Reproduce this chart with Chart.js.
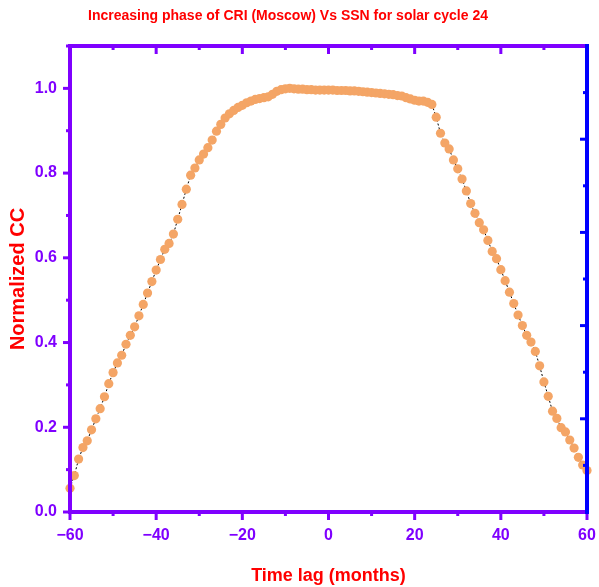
<!DOCTYPE html>
<html>
<head>
<meta charset="utf-8">
<script src="https://cdn.jsdelivr.net/npm/chart.js@4.4.0/dist/chart.umd.min.js"></script>
<style>
  html, body { margin: 0; padding: 0; background: #fff; }
  #wrap { width: 599px; height: 587px; }
</style>
</head>
<body>
<div id="wrap"><canvas id="grafica" width="599" height="587"></canvas></div>
<script>
// datos
const lags = [];
for (let m = -60; m <= 60; m++) lags.push(m);

const normCC = [
  0.056, 0.086, 0.125, 0.152, 0.168, 0.194, 0.220, 0.244, 0.272, 0.303,   // -60..-51
  0.329, 0.352, 0.370, 0.396, 0.417, 0.437, 0.463, 0.490, 0.517, 0.544,   // -50..-41
  0.571, 0.596, 0.620, 0.634, 0.656, 0.691, 0.726, 0.762, 0.795, 0.812,   // -40..-31
  0.831, 0.845, 0.860, 0.878, 0.899, 0.915, 0.930, 0.940, 0.948, 0.955,   // -30..-21
  0.960, 0.966, 0.970, 0.974, 0.976, 0.978, 0.980, 0.986, 0.993, 0.997,   // -20..-11
  0.999, 1.000, 0.999, 0.998, 0.998, 0.997, 0.997, 0.996, 0.996, 0.996,   // -10..-1
  0.996, 0.996, 0.995, 0.995, 0.995, 0.994, 0.994, 0.993, 0.992, 0.991,   // 0..9
  0.990, 0.989, 0.988, 0.987, 0.986, 0.985, 0.983, 0.982, 0.978, 0.975,   // 10..19
  0.972, 0.970, 0.970, 0.967, 0.962, 0.932, 0.894, 0.871, 0.857, 0.831,   // 20..29
  0.810, 0.786, 0.758, 0.728, 0.705, 0.683, 0.666, 0.641, 0.615, 0.598,   // 30..39
  0.572, 0.546, 0.519, 0.492, 0.465, 0.440, 0.417, 0.401, 0.379, 0.345,   // 40..49
  0.307, 0.273, 0.238, 0.221, 0.199, 0.189, 0.170, 0.151, 0.129, 0.111,   // 50..59
  0.098                                                                   // 60
];

const xTicks = [-60, -40, -20, 0, 20, 40, 60];
const yTicks = [0.0, 0.2, 0.4, 0.6, 0.8, 1.0];
const titulo = 'Increasing phase of CRI (Moscow) Vs SSN for solar cycle 24';

const MORADO = '#7f00ff';
const AZUL = '#0000ff';
const ROJO = '#ff0000';
const FUENTE = '"Liberation Sans", Arial, sans-serif';

// sin relleno extra por las etiquetas, para fijar el area del grafico
const sinRelleno = s => { s.paddingLeft = 0; s.paddingRight = 0; s.paddingTop = 0; s.paddingBottom = 0; };

// titulo, marco y marcas de los ejes (hacia fuera abajo/izquierda, hacia dentro arriba/derecha)
const marcoEjes = {
  id: 'marcoEjes',
  afterDatasetsDraw(chart) {
    const { ctx, chartArea: a, scales } = chart;
    const x = scales.x, y = scales.y, y2 = scales.y2;
    ctx.save();
    ctx.lineCap = 'butt';

    ctx.fillStyle = ROJO;
    ctx.font = 'bold 14px ' + FUENTE;
    ctx.textAlign = 'center';
    ctx.textBaseline = 'middle';
    ctx.fillText(titulo, 288, 16);

    // marcas eje x
    ctx.strokeStyle = MORADO;
    ctx.lineWidth = 3;
    for (let v = -60; v <= 60; v += 10) {
      const px = x.getPixelForValue(v);
      const largo = (v % 20 === 0) ? 8 : 4;
      ctx.beginPath();
      ctx.moveTo(px, a.bottom); ctx.lineTo(px, a.bottom + largo);
      ctx.moveTo(px, a.top); ctx.lineTo(px, a.top + largo);
      ctx.stroke();
    }
    // marcas eje y izquierdo
    for (let i = 0; i <= 11; i++) {
      const py = y.getPixelForValue(i / 10);
      const largo = (i % 2 === 0) ? 7 : 4;
      ctx.beginPath();
      ctx.moveTo(a.left, py); ctx.lineTo(a.left - largo, py);
      ctx.stroke();
    }
    // marcas eje derecho
    ctx.strokeStyle = AZUL;
    for (let i = 1; i <= 10; i++) {
      const py = y2.getPixelForValue(i / 2);
      const largo = (i % 2 === 0) ? 7 : 4;
      ctx.beginPath();
      ctx.moveTo(a.right, py); ctx.lineTo(a.right - largo, py);
      ctx.stroke();
    }

    // lineas del marco
    ctx.lineWidth = 4;
    ctx.strokeStyle = MORADO;
    ctx.beginPath();
    ctx.moveTo(a.left, a.top - 2); ctx.lineTo(a.left, a.bottom + 2);
    ctx.moveTo(a.left - 2, a.bottom); ctx.lineTo(a.right, a.bottom);
    ctx.moveTo(a.left - 2, a.top); ctx.lineTo(a.right, a.top);
    ctx.stroke();
    ctx.strokeStyle = AZUL;
    ctx.beginPath();
    ctx.moveTo(a.right, a.top - 2); ctx.lineTo(a.right, a.bottom + 2);
    ctx.stroke();
    ctx.restore();
  }
};

const ctx = document.getElementById('grafica').getContext('2d');
new Chart(ctx, {
  type: 'line',
  data: {
    datasets: [{
      label: 'Normalized CC',
      data: lags.map((m, i) => ({ x: m, y: normCC[i] })),
      borderColor: '#000',
      borderWidth: 1,
      borderDash: [2, 2],
      pointRadius: 4.6,
      pointHoverRadius: 4.6,
      pointBackgroundColor: '#f4a566',
      pointBorderWidth: 0,
      tension: 0,
      clip: false
    }]
  },
  options: {
    responsive: false,
    animation: false,
    layout: { padding: { top: 46, left: 0, right: 0, bottom: 0 } },
    plugins: {
      legend: { display: false },
      tooltip: { enabled: false },
      title: { display: false }
    },
    scales: {
      x: {
        type: 'linear',
        min: -60, max: 60,
        afterBuildTicks: s => { s.ticks = xTicks.map(v => ({ value: v })); },
        afterFit: s => { s.height = 75; sinRelleno(s); },
        grid: { display: false, drawTicks: false },
        border: { display: false },
        ticks: {
          color: MORADO,
          padding: 14,
          font: { family: FUENTE, size: 16, weight: 'bold' },
          callback: v => (v < 0 ? '\u2212' + Math.abs(v) : String(v))
        },
        title: {
          display: true,
          text: 'Time lag (months)',
          color: ROJO,
          font: { family: FUENTE, size: 18, weight: 'bold' },
          padding: { top: 8, bottom: 0 }
        }
      },
      y: {
        position: 'left',
        min: 0, max: 1.1,
        afterBuildTicks: s => { s.ticks = yTicks.map(v => ({ value: v })); },
        afterFit: s => { s.width = 70; sinRelleno(s); },
        grid: { display: false, drawTicks: false },
        border: { display: false },
        ticks: {
          color: MORADO,
          padding: 13,
          font: { family: FUENTE, size: 16, weight: 'bold' },
          callback: v => v.toFixed(1)
        },
        title: {
          display: true,
          text: 'Normalized CC',
          color: ROJO,
          font: { family: FUENTE, size: 20, weight: 'bold' },
          padding: { top: 6, bottom: 0 }
        }
      },
      y2: {
        position: 'right',
        min: 0, max: 5,
        afterFit: s => { s.width = 12; sinRelleno(s); },
        grid: { display: false, drawTicks: false },
        border: { display: false },
        ticks: { display: false }
      }
    }
  },
  plugins: [marcoEjes]
});
</script>
</body>
</html>
